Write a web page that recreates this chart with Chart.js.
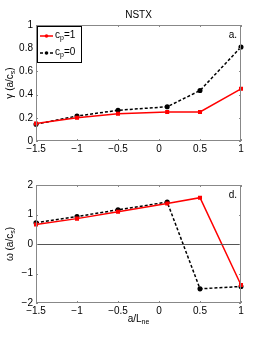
<!DOCTYPE html>
<html>
<head>
<meta charset="utf-8">
<script src="https://cdn.jsdelivr.net/npm/chart.js@4"></script>
<style>
  html, body { margin: 0; padding: 0; background: #fff; }
  .box { position: absolute; left: 0; width: 266px; height: 170px; }
  #top { top: 0; }
  #bot { top: 170px; }
</style>
</head>
<body>
<div class="box" id="top"><canvas id="cGamma"></canvas></div>
<div class="box" id="bot"><canvas id="cOmega"></canvas></div>
<script>
// x 坐标 a/L_ne
const xVals = [-1.5, -1, -0.5, 0.1, 0.5, 1];
// growth rate gamma
const gammaCp1 = [0.15, 0.20, 0.235, 0.25, 0.25, 0.45];
const gammaCp0 = [0.145, 0.215, 0.265, 0.295, 0.435, 0.81];
// frequency omega
const omegaCp1 = [0.66, 0.86, 1.09, 1.375, 1.57, -1.39];
const omegaCp0 = [0.72, 0.93, 1.16, 1.42, -1.52, -1.44];
const xTicks = [-1.5, -1, -0.5, 0, 0.5, 1];
const gammaTicks = [0, 0.2, 0.4, 0.6, 0.8, 1];
const omegaTicks = [-2, -1, 0, 1, 2];

const FONT = '"Liberation Sans", Arial, sans-serif';
const fmt = v => (v < 0 ? '\u2212' + String(-v) : String(v));
const pts = arr => arr.map((y, i) => ({ x: xVals[i], y: y }));

// 矩形边框 + 内向刻度（matlab 风格）
const boxPlugin = {
  id: 'box',
  afterDatasetsDraw(chart, args, opts) {
    const { ctx, chartArea: a, scales } = chart;
    ctx.save();
    if (opts.zeroLine) {
      const y0 = scales.y.getPixelForValue(0);
      ctx.strokeStyle = '#555';
      ctx.lineWidth = 1;
      ctx.beginPath();
      ctx.moveTo(a.left, Math.round(y0) + 0.5);
      ctx.lineTo(a.right, Math.round(y0) + 0.5);
      ctx.stroke();
    }
    ctx.strokeStyle = '#888';
    ctx.lineWidth = 1;
    ctx.strokeRect(a.left + 0.5, a.top + 0.5, a.right - a.left - 1, a.bottom - a.top - 1);
    ctx.beginPath();
    xTicks.forEach(v => {
      const px = Math.round(scales.x.getPixelForValue(v)) + 0.5;
      ctx.moveTo(px, a.bottom); ctx.lineTo(px, a.bottom - 2);
      ctx.moveTo(px, a.top); ctx.lineTo(px, a.top + 2);
    });
    opts.yTicks.forEach(v => {
      const py = Math.round(scales.y.getPixelForValue(v)) + 0.5;
      ctx.moveTo(a.left, py); ctx.lineTo(a.left + 2, py);
      ctx.moveTo(a.right, py); ctx.lineTo(a.right - 2, py);
    });
    ctx.stroke();
    // panel label
    ctx.fillStyle = '#000';
    ctx.font = '10px ' + FONT;
    ctx.textAlign = 'right';
    ctx.textBaseline = 'top';
    ctx.fillText(opts.panel, a.right - 4, a.top + 5);
    ctx.restore();
  }
};

// 带下标的文字
function subText(ctx, x, y, main, sub, size) {
  ctx.font = size + 'px ' + FONT;
  ctx.fillText(main, x, y);
  const w = ctx.measureText(main).width;
  ctx.font = (size - 3) + 'px ' + FONT;
  ctx.fillText(sub, x + w, y + 3);
  return w + ctx.measureText(sub).width;
}

const labelPlugin = {
  id: 'labels',
  afterDraw(chart, args, opts) {
    const { ctx, chartArea: a } = chart;
    ctx.save();
    ctx.fillStyle = '#000';
    ctx.textBaseline = 'middle';
    ctx.textAlign = 'left';
    if (opts.title) {
      ctx.font = '10px ' + FONT;
      ctx.textAlign = 'center';
      ctx.fillText(opts.title, (a.left + a.right) / 2, 15);
      ctx.textAlign = 'left';
    }
    // y 轴标题（旋转）
    ctx.save();
    const cy = (a.top + a.bottom) / 2;
    ctx.translate(10, cy);
    ctx.rotate(-Math.PI / 2);
    const m = opts.yMain, s = 's', tail = ')';
    ctx.font = '10px ' + FONT;
    const w1 = ctx.measureText(m).width;
    ctx.font = '7px ' + FONT;
    const w2 = ctx.measureText(s).width;
    ctx.font = '10px ' + FONT;
    const w3 = ctx.measureText(tail).width;
    let x0 = -(w1 + w2 + w3) / 2;
    subText(ctx, x0, 0, m, s, 10);
    ctx.font = '10px ' + FONT;
    ctx.fillText(tail, x0 + w1 + w2, 0);
    ctx.restore();
    // x 轴标题
    if (opts.xTitle) {
      const cx = (a.left + a.right) / 2;
      ctx.font = '10px ' + FONT;
      const wa = ctx.measureText('a/L').width;
      ctx.font = '7px ' + FONT;
      const wb = ctx.measureText('ne').width;
      subText(ctx, cx - (wa + wb) / 2, a.bottom + 16, 'a/L', 'ne', 10);
    }
    // 图例
    if (opts.legend) {
      const lx = a.left + 1, ly = a.top + 1, lw = 44, lh = 36;
      ctx.fillStyle = '#fff';
      ctx.fillRect(lx, ly, lw, lh);
      ctx.strokeStyle = '#000';
      ctx.lineWidth = 1;
      ctx.strokeRect(lx + 0.5, ly + 0.5, lw, lh);
      chart.data.datasets.forEach((ds, i) => {
        const yy = ly + 10 + i * 17;
        ctx.strokeStyle = ds.borderColor;
        ctx.lineWidth = 1.5;
        ctx.setLineDash(ds.borderDash || []);
        ctx.beginPath();
        ctx.moveTo(lx + 3, yy); ctx.lineTo(lx + 16, yy);
        ctx.stroke();
        ctx.setLineDash([]);
        ctx.fillStyle = ds.borderColor;
        ctx.beginPath();
        ctx.arc(lx + 9.5, yy, 1.8, 0, Math.PI * 2);
        ctx.fill();
        ctx.fillStyle = '#000';
        ctx.textBaseline = 'middle';
        const w = subText(ctx, lx + 18, yy - 1, 'c', 'p', 10);
        ctx.font = '10px ' + FONT;
        ctx.fillText(i === 0 ? '=1' : '=0', lx + 18 + w, yy - 1);
      });
    }
    ctx.restore();
  }
};

function makeChart(id, d1, d0, yMin, yMax, yTicks, extra) {
  return new Chart(document.getElementById(id), {
    type: 'line',
    data: {
      datasets: [
        {
          data: pts(d1),
          borderColor: '#ff0000',
          backgroundColor: '#ff0000',
          borderWidth: 1.5,
          pointRadius: 1.8,
          pointStyle: 'rect',
          tension: 0
        },
        {
          data: pts(d0),
          borderColor: '#000000',
          backgroundColor: '#000000',
          borderWidth: 1.5,
          borderDash: [3, 2],
          pointRadius: 1.8,
          tension: 0
        }
      ]
    },
    options: {
      responsive: true,
      maintainAspectRatio: false,
      animation: false,
      clip: false,
      layout: { padding: { top: extra.padTop, right: 25, left: 0, bottom: 0 } },
      scales: {
        x: {
          type: 'linear',
          min: -1.5, max: 1,
          afterBuildTicks: s => { s.ticks = xTicks.map(v => ({ value: v })); },
          afterFit: s => { s.height = extra.xHeight; },
          grid: { display: false, drawTicks: false },
          border: { display: false },
          ticks: { color: '#000', padding: 2, font: { size: 10, family: FONT }, callback: v => fmt(v), maxRotation: 0, autoSkip: false }
        },
        y: {
          min: yMin, max: yMax,
          afterBuildTicks: s => { s.ticks = yTicks.map(v => ({ value: v })); },
          afterFit: s => { s.width = 36; },
          grid: { display: false, drawTicks: false },
          border: { display: false },
          ticks: { color: '#000', padding: 3, font: { size: 10, family: FONT }, callback: v => fmt(Math.round(v * 10) / 10) }
        }
      },
      plugins: {
        legend: { display: false },
        tooltip: { enabled: false },
        box: { yTicks: yTicks, panel: extra.panel, zeroLine: extra.zeroLine },
        labels: extra.labels
      }
    },
    plugins: [boxPlugin, labelPlugin]
  });
}

makeChart('cGamma', gammaCp1, gammaCp0, 0, 1, gammaTicks, {
  padTop: 25, xHeight: 29, panel: 'a.', zeroLine: false,
  labels: { title: 'NSTX', yMain: '\u03b3 (a/c', legend: true }
});
makeChart('cOmega', omegaCp1, omegaCp0, -2, 2, omegaTicks, {
  padTop: 15, xHeight: 37, panel: 'd.', zeroLine: true,
  labels: { yMain: '\u03c9 (a/c', xTitle: true }
});
</script>
</body>
</html>
